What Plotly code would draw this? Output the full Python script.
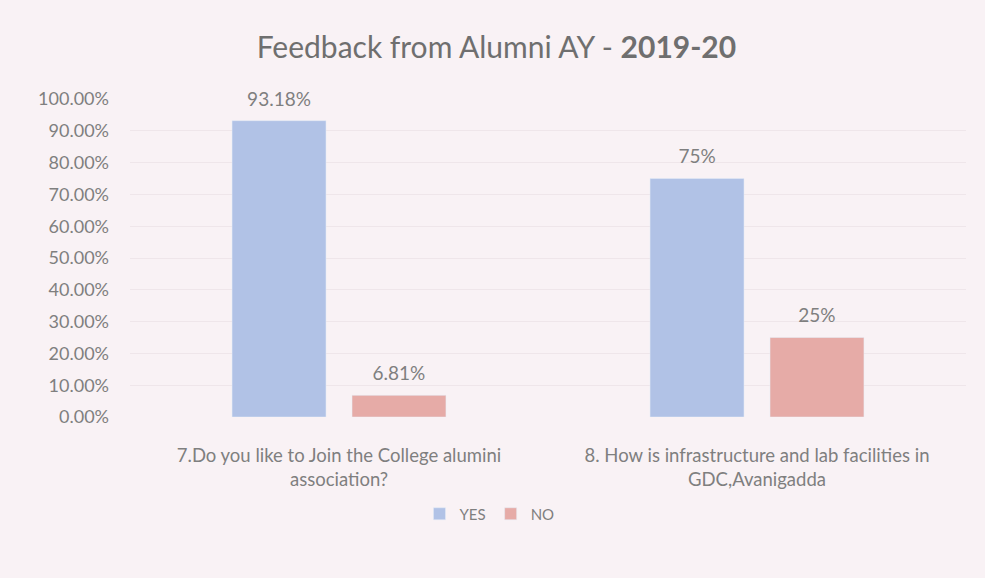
"""Alumni feedback bar chart."""

import plotly.graph_objects as go

QUESTIONS = [
    "7.Do you like to Join the College alumini<br>association?",
    "8. How is infrastructure and lab facilities in<br>GDC,Avanigadda",
]
YES = [0.9318, 0.75]
NO = [0.0681, 0.25]
YES_LABELS = ["93.18%", "75%"]
NO_LABELS = ["6.81%", "25%"]

BG = "#f9f2f5"
TEXT = "#7f7f7f"
FONT = "Lato, 'Open Sans', sans-serif"

fig = go.Figure()
for name, values, labels, color in [
    ("YES", YES, YES_LABELS, "#b1c2e6"),
    ("NO", NO, NO_LABELS, "#e6aba7"),
]:
    fig.add_trace(
        go.Bar(
            x=QUESTIONS,
            y=values,
            name=name,
            offsetgroup=name,
            marker=dict(color=color),
            hovertemplate="%{x}<br>" + name + ": %{y:.2%}<extra></extra>",
        )
    )
    # value labels sit a little higher above the bars than plotly's "outside" text
    fig.add_trace(
        go.Scatter(
            x=QUESTIONS,
            y=values,
            offsetgroup=name,
            mode="markers+text",
            text=labels,
            textposition="top center",
            textfont=dict(size=19, color=TEXT),
            marker=dict(size=15, color="rgba(0,0,0,0)"),
            showlegend=False,
            hoverinfo="skip",
            cliponaxis=False,
        )
    )

fig.update_layout(
    width=985,
    height=578,
    paper_bgcolor=BG,
    plot_bgcolor=BG,
    font=dict(family=FONT, color=TEXT, size=18),
    title=dict(
        text="Feedback from Alumni AY - <b>2019-20</b>",
        x=0.504,
        xanchor="center",
        y=0.918,
        yanchor="middle",
        font=dict(size=30, color="#6f6f6f"),
    ),
    margin=dict(l=130, r=19, t=99, b=161),
    barmode="group",
    scattermode="group",
    bargap=0.426,
    bargroupgap=0.217,
    showlegend=True,
    legend=dict(
        orientation="h",
        x=0.43,
        xanchor="center",
        y=-0.305,
        yanchor="middle",
        itemwidth=30,
        font=dict(size=15, color=TEXT),
        bgcolor="rgba(0,0,0,0)",
    ),
)
fig.update_yaxes(
    range=[0, 1.0],
    dtick=0.1,
    tickformat=".2%",
    showgrid=True,
    gridcolor="#efe6ea",
    zeroline=False,
    ticks="",
    ticklabelstandoff=20,
    tickfont=dict(size=18, color=TEXT),
)
fig.update_xaxes(
    showline=False,
    ticks="",
    ticklabelstandoff=25,
    tickfont=dict(size=18.5, color=TEXT),
)

fig.write_html(
    "out.html",
    config={"displayModeBar": False},
    post_script="document.body.style.margin='0';",
)
